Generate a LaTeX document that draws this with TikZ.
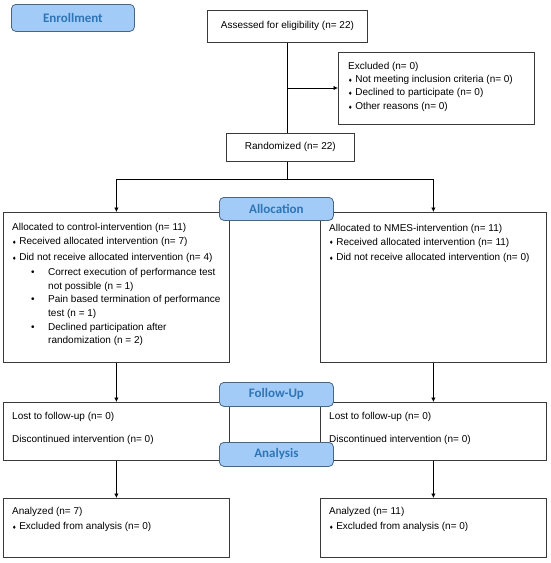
\documentclass[tikz,border=0pt]{standalone}
\usepackage{fontspec}
\setmainfont{Liberation Sans}
\newfontfamily\labelfont{Carlito}
\newfontfamily\symfont{DejaVu Sans}
\usetikzlibrary{arrows.meta}
\definecolor{labfill}{HTML}{A3CBF7}
\definecolor{labdraw}{HTML}{4A6580}
\definecolor{labtext}{HTML}{2E75B6}
\definecolor{boxdraw}{HTML}{3A3A3A}
\newcommand{\dia}{{\symfont\fontsize{5}{5}\selectfont\raisebox{0.6pt}{♦}}\hspace{2.6pt}}
\newcommand{\subb}{\hspace*{19pt}\makebox[17pt][l]{•}}
\newcommand{\subc}{\hspace*{36pt}}
\begin{document}
\begin{tikzpicture}[x=1pt,y=-1pt,
  box/.style={draw=boxdraw,line width=0.8pt,fill=white,anchor=north west,inner sep=0pt},
  lab/.style={draw=labdraw,line width=0.8pt,fill=labfill,rounded corners=4.5pt,
    text=labtext,font=\labelfont\bfseries\fontsize{13}{15}\selectfont,inner sep=0pt},
  txt/.style={anchor=base west,inner sep=0pt,font=\fontsize{10}{12}\selectfont},
  ctr/.style={font=\fontsize{10}{12}\selectfont},
  conn/.style={line width=0.8pt,draw=black},
  arr/.style={conn,-{Latex[length=4.5pt,width=4.5pt]}}]
\useasboundingbox (0,0) rectangle (550,563);

% boxes
\node[box,minimum width=160pt,minimum height=32pt] (assess) at (207,10) {};
\node[ctr] (assesst) at (assess.center) {Assessed for eligibility (n= 22)};
\node[box,minimum width=196pt,minimum height=72pt] (excl) at (338,52) {};
\node[box,minimum width=128pt,minimum height=28pt] (rand) at (226,133) {};
\node[ctr] (randt) at (rand.center) {Randomized (n= 22)};
\node[box,minimum width=226pt,minimum height=150pt] (lalloc) at (3,212) {};
\node[box,minimum width=226pt,minimum height=150pt] (ralloc) at (320,212) {};
\node[box,minimum width=226pt,minimum height=58pt] (lfu) at (3,402) {};
\node[box,minimum width=226pt,minimum height=58pt] (rfu) at (320,402) {};
\node[box,minimum width=226pt,minimum height=59pt] (lan) at (3,498) {};
\node[box,minimum width=226pt,minimum height=59pt] (ran) at (320,498) {};

% texts
\node[txt] (ex1) at (348,69.7) {Excluded (n= 0)};
\node[txt] (ex2) at (348,82.7) {\dia Not meeting inclusion criteria (n= 0)};
\node[txt] (ex3) at (348,95.7) {\dia Declined to participate (n= 0)};
\node[txt] (ex4) at (348,109.7) {\dia Other reasons (n= 0)};

\node[txt] (la1) at (12,230.7) {Allocated to control-intervention (n= 11)};
\node[txt] (la2) at (12,244.7) {\dia Received allocated intervention (n= 7)};
\node[txt] (la3) at (12,260.7) {\dia Did not receive allocated intervention (n= 4)};
\node[txt] (la4) at (12,275.7) {\subb Correct execution of performance test};
\node[txt] (la5) at (12,289.7) {\subc not possible (n = 1)};
\node[txt] (la6) at (12,302.7) {\subb Pain based termination of performance};
\node[txt] (la7) at (12,316.7) {\subc test (n = 1)};
\node[txt] (la8) at (12,330.7) {\subb Declined participation after};
\node[txt] (la9) at (12,343.7) {\subc randomization (n = 2)};

\node[txt] (ra1) at (329,231.2) {Allocated to NMES-intervention (n= 11)};
\node[txt] (ra2) at (329,245.2) {\dia Received allocated intervention (n= 11)};
\node[txt] (ra3) at (329,260.7) {\dia Did not receive allocated intervention (n= 0)};

\node[txt] (lf1) at (12,419.7) {Lost to follow-up (n= 0)};
\node[txt] (lf2) at (12,442.7) {Discontinued intervention (n= 0)};
\node[txt] (rf1) at (329,419.7) {Lost to follow-up (n= 0)};
\node[txt] (rf2) at (329,442.7) {Discontinued intervention (n= 0)};

\node[txt] (ln1) at (12,514.7) {Analyzed (n= 7)};
\node[txt] (ln2) at (12,529.7) {\dia Excluded from analysis (n= 0)};
\node[txt] (rn1) at (329,514.7) {Analyzed (n= 11)};
\node[txt] (rn2) at (329,529.7) {\dia Excluded from analysis (n= 0)};

% connectors
\coordinate (j1) at (287,88);
\coordinate (split) at (287,179);
\draw[conn] (assess.south) -- (assess.south |- rand.north);
\draw[arr] (j1) -- (j1 -| excl.west);
\draw[conn] (split |- rand.south) -- (split);
\draw[arr] (split) -| (lalloc.north);
\draw[arr] (split) -| (ralloc.north);
\draw[arr] (lalloc.south) -- (lfu.north);
\draw[arr] (ralloc.south) -- (rfu.north);
\draw[arr] (lfu.south) -- (lan.north);
\draw[arr] (rfu.south) -- (ran.north);

% stage labels
\node[lab,minimum width=123pt,minimum height=27pt,anchor=north west] (enrol) at (11,4) {Enrollment};
\node[lab,minimum width=114pt,minimum height=23pt,anchor=north west] (alloc) at (219,197) {Allocation};
\node[lab,minimum width=114pt,minimum height=24pt,anchor=north west] (fu) at (219,382) {Follow-Up};
\node[lab,minimum width=114pt,minimum height=24pt,anchor=north west] (anal) at (219,442) {Analysis};
\end{tikzpicture}
\end{document}
